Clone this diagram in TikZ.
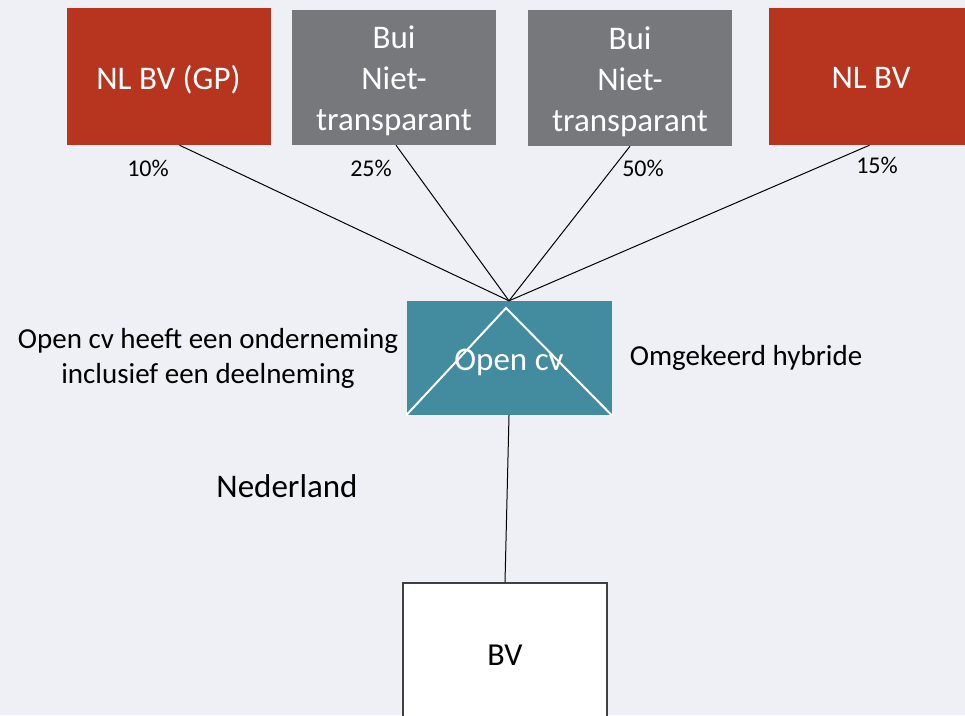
\documentclass[tikz,border=0pt]{standalone}
\usepackage{fontspec}
\setmainfont{Carlito}
\usetikzlibrary{calc}
\definecolor{bg}{HTML}{EFF0F6}
\definecolor{boxred}{HTML}{B7351F}
\definecolor{boxgray}{HTML}{76787B}
\definecolor{teal}{HTML}{438B9F}
\definecolor{bvborder}{HTML}{404040}
\begin{document}
\begin{tikzpicture}[x=1pt,y=-1pt,
  topbox/.style={minimum width=204pt, minimum height=137pt, inner sep=0pt},
  redbox/.style={topbox, fill=boxred},
  graybox/.style={topbox, fill=boxgray},
  boxtext/.style={text=white, align=center, inner sep=0pt, font=\fontsize{33}{41}\selectfont},
  pct/.style={font=\fontsize{24}{29}\selectfont, inner sep=0pt},
  lbl/.style={font=\fontsize{29}{35}\selectfont, inner sep=0pt, align=center},
  link/.style={draw=black, line width=1pt}]
\fill[bg] (0,0) rectangle (965,715);
\useasboundingbox (0,0) rectangle (965,715);
\clip (0,0) rectangle (965,715);
\node[redbox] (b1) at (168.5,76.5) {};
\node[graybox, minimum height=135pt] (b2) at (394,77.5) {};
\node[graybox, minimum height=136pt] (b3) at (630,78) {};
\node[redbox] (b4) at (871,76.5) {};
\node[boxtext] (t1) at ([yshift=-3pt]b1.center) {NL BV (GP)};
\node[boxtext] (t2) at ([yshift=-3.5pt]b2.center) {Bui\\Niet-\\transparant};
\node[boxtext] (t3) at ([yshift=-3.5pt]b3.center) {Bui\\Niet-\\transparant};
\node[boxtext] (t4) at ([yshift=-1pt]b4.center) {NL BV};
\node[pct] (p1) at (148,168) {10\%};
\node[pct] (p2) at (371,168) {25\%};
\node[pct] (p3) at (643,168) {50\%};
\node[pct] (p4) at (877,165) {15\%};
\node[fill=teal, minimum width=205pt, minimum height=114pt, inner sep=0pt] (cv) at (509,358) {};
\coordinate (apex) at (506,308);
\draw[white, line width=2pt] (cv.south west) -- (apex) -- (cv.south east);
\node[boxtext] (cvt) at (509,362) {Open cv};
\draw[link] ([xshift=11pt]b1.south) -- (cv.north);
\draw[link] ([xshift=2pt]b2.south) -- (cv.north);
\draw[link] (b3.south) -- (cv.north);
\draw[link] ([xshift=-1.5pt]b4.south) -- (cv.north);
\node[lbl] (l1) at (208,358) {Open cv heeft een onderneming\\inclusief een deelneming};
\node[lbl] (l2) at (746,358) {Omgekeerd hybride};
\node[font=\fontsize{33}{41}\selectfont, inner sep=0pt] (nl) at (287,486) {Nederland};
\node[draw=bvborder, line width=1.5pt, fill=white, minimum width=204pt, minimum height=200pt, inner sep=0pt] (bv) at (505,683) {};
\node[font=\fontsize{32}{40}\selectfont, inner sep=0pt] (bvt) at (505,655) {BV};
\draw[link] (cv.south) -- (bv.north);
\end{tikzpicture}
\end{document}
